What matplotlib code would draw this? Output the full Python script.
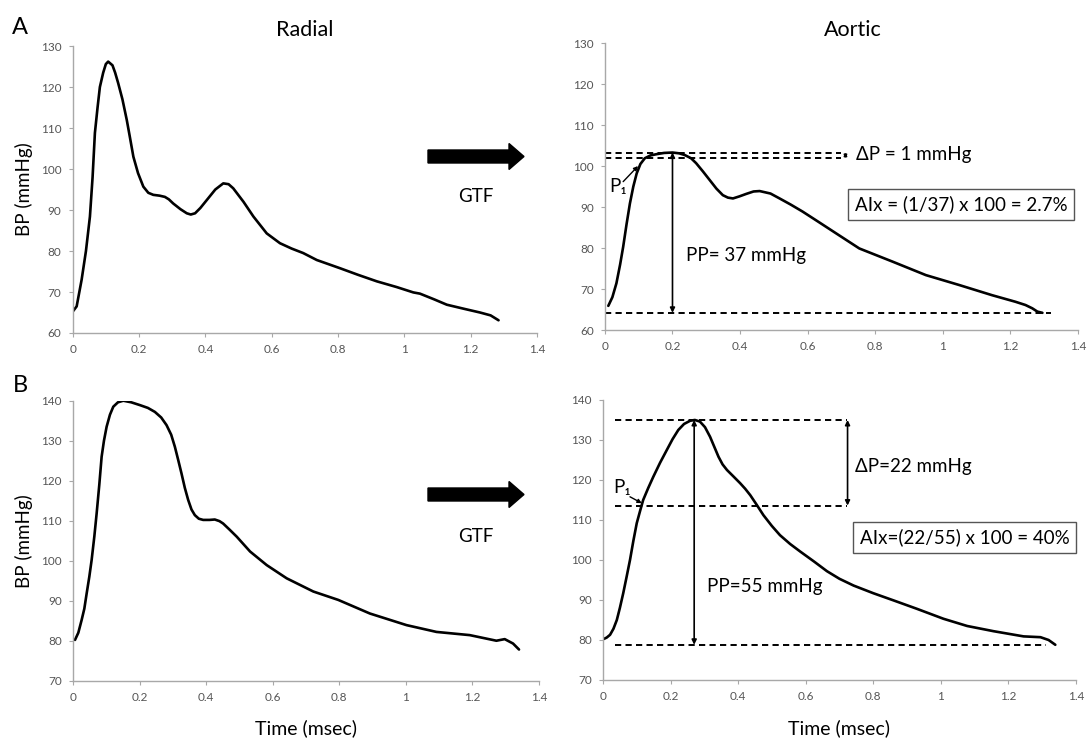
import matplotlib
matplotlib.use("Agg")
import matplotlib.pyplot as plt
from matplotlib.patches import FancyArrow

plt.rcParams['font.family'] = ['Lato', 'DejaVu Sans']

# --- data (time in s, pressure in mmHg) ---
# A: radial
radial_a_t = [0.0, 0.012, 0.027, 0.04, 0.052, 0.06, 0.067, 0.075, 0.082, 0.092, 0.1, 0.107,
              0.12, 0.128, 0.137, 0.15, 0.163, 0.172, 0.183, 0.197, 0.213, 0.228, 0.243,
              0.262, 0.278, 0.29, 0.303, 0.325, 0.344, 0.356, 0.369, 0.385, 0.404, 0.43,
              0.454, 0.47, 0.484, 0.515, 0.545, 0.585, 0.625, 0.66, 0.695, 0.736, 0.806,
              0.86, 0.917, 0.977, 1.027, 1.047, 1.09, 1.128, 1.18, 1.228, 1.26, 1.284]
radial_a_bp = [65.2, 66.5, 73.0, 80.0, 88.4, 98.0, 108.8, 115.0, 120.0, 123.5, 125.6, 126.2,
               125.3, 123.5, 121.0, 117.0, 112.0, 108.0, 103.0, 99.0, 95.7, 94.2, 93.7,
               93.5, 93.2, 92.6, 91.6, 90.2, 89.2, 88.9, 89.2, 90.5, 92.4, 95.0,
               96.5, 96.3, 95.3, 92.0, 88.4, 84.3, 81.9, 80.6, 79.5, 77.8, 75.8,
               74.2, 72.6, 71.2, 69.9, 69.6, 68.2, 66.9, 65.9, 65.0, 64.3, 63.1]

# A: aortic
aortic_a_t = [0.01, 0.022, 0.034, 0.045, 0.054, 0.064, 0.074, 0.084, 0.094, 0.105, 0.118,
              0.135, 0.153, 0.175, 0.2, 0.22, 0.236, 0.255, 0.27, 0.29, 0.31, 0.33, 0.349,
              0.364, 0.379, 0.398, 0.418, 0.44, 0.458, 0.49, 0.517, 0.55, 0.585, 0.63,
              0.684, 0.753, 0.851, 0.95, 1.048, 1.146, 1.215, 1.245, 1.265, 1.28, 1.295]
aortic_a_bp = [65.9, 68.0, 71.4, 76.0, 80.3, 85.8, 90.9, 95.0, 98.2, 100.5, 101.9,
               102.6, 102.9, 103.2, 103.3, 103.1, 102.7, 101.9, 100.7, 98.7, 96.6, 94.5, 92.9,
               92.3, 92.1, 92.6, 93.2, 93.8, 93.9, 93.3, 92.1, 90.6, 88.9, 86.5,
               83.6, 79.9, 76.7, 73.4, 71.0, 68.5, 66.9, 66.1, 65.3, 64.5, 64.2]

# B: radial
radial_b_t = [0.006, 0.016, 0.026, 0.034, 0.041, 0.049, 0.056, 0.064, 0.071, 0.079, 0.086,
              0.093, 0.101, 0.111, 0.121, 0.135, 0.151, 0.175, 0.201, 0.225, 0.246, 0.265,
              0.281, 0.295, 0.306, 0.316, 0.326, 0.336, 0.346, 0.356, 0.366, 0.378, 0.391,
              0.41, 0.426, 0.44, 0.451, 0.47, 0.492, 0.532, 0.582, 0.642, 0.722, 0.797,
              0.892, 1.002, 1.092, 1.192, 1.272, 1.297, 1.322, 1.34]
radial_b_bp = [80.2, 82.0, 85.2, 88.0, 91.8, 96.0, 100.2, 106.0, 111.8, 119.0, 126.0,
               130.0, 133.5, 136.5, 138.5, 139.6, 140.0, 139.6, 138.9, 138.2, 137.2, 135.8,
               133.9, 131.5, 128.5, 125.2, 121.8, 118.2, 115.2, 112.8, 111.4, 110.5, 110.2,
               110.2, 110.3, 109.9, 109.3, 107.8, 106.0, 102.3, 98.9, 95.6, 92.3, 90.2,
               86.8, 83.9, 82.2, 81.4, 80.0, 80.4, 79.3, 77.8]

# B: aortic
aortic_b_t = [0.001, 0.011, 0.021, 0.031, 0.041, 0.05, 0.06, 0.07, 0.08, 0.09, 0.1, 0.11,
              0.119, 0.134, 0.149, 0.169, 0.189, 0.206, 0.223, 0.24, 0.258, 0.272, 0.287,
              0.302, 0.317, 0.33, 0.342, 0.354, 0.367, 0.386, 0.406, 0.421, 0.436, 0.455,
              0.475, 0.5, 0.524, 0.554, 0.584, 0.625, 0.663, 0.7, 0.742, 0.8, 0.86, 0.929,
              1.008, 1.078, 1.156, 1.245, 1.295, 1.319, 1.339]
aortic_b_bp = [80.2, 80.6, 81.3, 82.8, 85.0, 88.0, 91.7, 95.8, 100.0, 104.8, 109.2, 112.3,
               115.0, 118.0, 120.8, 124.3, 127.5, 130.2, 132.5, 134.0, 134.8, 135.0, 134.6,
               133.2, 130.8, 128.2, 125.8, 123.9, 122.5, 120.9, 119.2, 117.8, 116.2, 113.8,
               111.2, 108.5, 106.2, 104.0, 102.1, 99.6, 97.2, 95.3, 93.6, 91.7, 89.9, 87.8,
               85.3, 83.5, 82.2, 80.9, 80.7, 80.0, 78.8]

# annotation levels
a_peak, a_p1, a_min = 103.3, 101.9, 64.2
b_peak, b_p1, b_min = 135.0, 113.6, 78.8

xticks = [0, 0.2, 0.4, 0.6, 0.8, 1.0, 1.2, 1.4]
xticklabels = ['0', '0.2', '0.4', '0.6', '0.8', '1', '1.2', '1.4']

fig = plt.figure(figsize=(10.88, 7.4), dpi=100)
ax_tl = fig.add_axes([0.0668, 0.550, 0.4268, 0.3878])
ax_tr = fig.add_axes([0.5560, 0.554, 0.4347, 0.3878])
ax_bl = fig.add_axes([0.0671, 0.0801, 0.4283, 0.3784])
ax_br = fig.add_axes([0.5542, 0.0811, 0.4347, 0.3784])


def style(ax, ylo, yhi):
    ax.set_xlim(0, 1.4)
    ax.set_ylim(ylo, yhi)
    ax.set_xticks(xticks)
    ax.set_xticklabels(xticklabels)
    ax.set_yticks(range(ylo, yhi + 1, 10))
    for s in ['top', 'right']:
        ax.spines[s].set_visible(False)
    for s in ['left', 'bottom']:
        ax.spines[s].set_color('#a8a8a8')
        ax.spines[s].set_linewidth(1.0)
    ax.tick_params(length=3, width=0.8, color='#a8a8a8', labelsize=8.5,
                   labelcolor='#555555', pad=5)
    ax.patch.set_alpha(0)


style(ax_tl, 60, 130)
style(ax_tr, 60, 130)
style(ax_bl, 70, 140)
style(ax_br, 70, 140)

line_kw = dict(color='black', lw=1.9, solid_joinstyle='round', solid_capstyle='round')
ax_tl.plot(radial_a_t, radial_a_bp, **line_kw)
ax_tr.plot(aortic_a_t, aortic_a_bp, **line_kw)
ax_bl.plot(radial_b_t, radial_b_bp, **line_kw)
ax_br.plot(aortic_b_t, aortic_b_bp, **line_kw)

ax_tl.set_ylabel('BP (mmHg)', fontsize=13.5, labelpad=6)
ax_bl.set_ylabel('BP (mmHg)', fontsize=13.5, labelpad=6)
ax_bl.set_xlabel('Time (msec)', fontsize=14, labelpad=12)
ax_br.set_xlabel('Time (msec)', fontsize=14, labelpad=12)

fig.text(305 / 1088, 1 - 30 / 740, 'Radial', fontsize=15.5, ha='center', va='center')
fig.text(853 / 1088, 1 - 30 / 740, 'Aortic', fontsize=15.5, ha='center', va='center')
fig.text(20 / 1088, 1 - 27 / 740, 'A', fontsize=17, ha='center', va='center')
fig.text(20 / 1088, 1 - 385 / 740, 'B', fontsize=17, ha='center', va='center')

# GTF arrows between panels
for yc, ty in [(156.5, 197), (494.5, 536)]:
    fig.patches.append(FancyArrow(428 / 1088, 1 - yc / 740, 96 / 1088, 0,
                                  width=13 / 740, head_width=26 / 740, head_length=15 / 1088,
                                  length_includes_head=True, transform=fig.transFigure,
                                  color='black', figure=fig))
    fig.text(476 / 1088, 1 - ty / 740, 'GTF', fontsize=13.5, ha='center', va='center')

dash = dict(color='black', lw=1.4, linestyle=(0, (3.2, 2.2)))
arr = dict(arrowstyle='<|-|>', color='black', lw=1.2, mutation_scale=7, shrinkA=0, shrinkB=0)
box = dict(boxstyle='square,pad=0.35', facecolor='white', edgecolor='#555555', lw=1.0)
fs = 13.5

# panel A aortic annotations
ax_tr.plot([0.0, 0.70], [a_peak, a_peak], **dash)
ax_tr.plot([0.0, 0.70], [a_p1, a_p1], **dash)
ax_tr.plot([0.0, 1.32], [a_min, a_min], **dash)
ax_tr.annotate('', xy=(0.2, a_min), xytext=(0.2, a_peak), arrowprops=arr)
ax_tr.annotate('', xy=(0.712, a_p1), xytext=(0.712, a_peak),
               arrowprops=dict(arr, mutation_scale=4))
ax_tr.text(0.744, 102.7, '\u0394P = 1 mmHg', fontsize=fs, va='center')
ax_tr.text(0.241, 78.3, 'PP= 37 mmHg', fontsize=fs, va='center')
ax_tr.text(1.054, 90.6, 'AIx = (1/37) x 100 = 2.7%', fontsize=fs, ha='center', va='center',
           bbox=box)
ax_tr.text(0.012, 95.0, 'P\u2081', fontsize=fs, va='center')
ax_tr.annotate('', xy=(0.098, 100.0), xytext=(0.054, 96.2),
               arrowprops=dict(arrowstyle='-|>', color='black', lw=1.0,
                               mutation_scale=6, shrinkA=0, shrinkB=0))

# panel B aortic annotations
ax_br.plot([0.035, 0.722], [b_peak, b_peak], **dash)
ax_br.plot([0.035, 0.722], [b_p1, b_p1], **dash)
ax_br.plot([0.035, 1.31], [b_min, b_min], **dash)
ax_br.annotate('', xy=(0.27, b_min), xytext=(0.27, b_peak), arrowprops=arr)
ax_br.annotate('', xy=(0.724, b_p1), xytext=(0.724, b_peak), arrowprops=arr)
ax_br.text(0.747, 123.3, '\u0394P=22 mmHg', fontsize=fs, va='center')
ax_br.text(0.307, 93.3, 'PP=55 mmHg', fontsize=fs, va='center')
ax_br.text(1.07, 105.6, 'AIx=(22/55) x 100 = 40%', fontsize=fs, ha='center', va='center',
           bbox=box)
ax_br.text(0.03, 118.0, 'P\u2081', fontsize=fs, va='center')
ax_br.annotate('', xy=(0.115, 114.2), xytext=(0.08, 115.8),
               arrowprops=dict(arrowstyle='-|>', color='black', lw=1.0,
                               mutation_scale=6, shrinkA=0, shrinkB=0))

fig.savefig('out.png', dpi=100)
